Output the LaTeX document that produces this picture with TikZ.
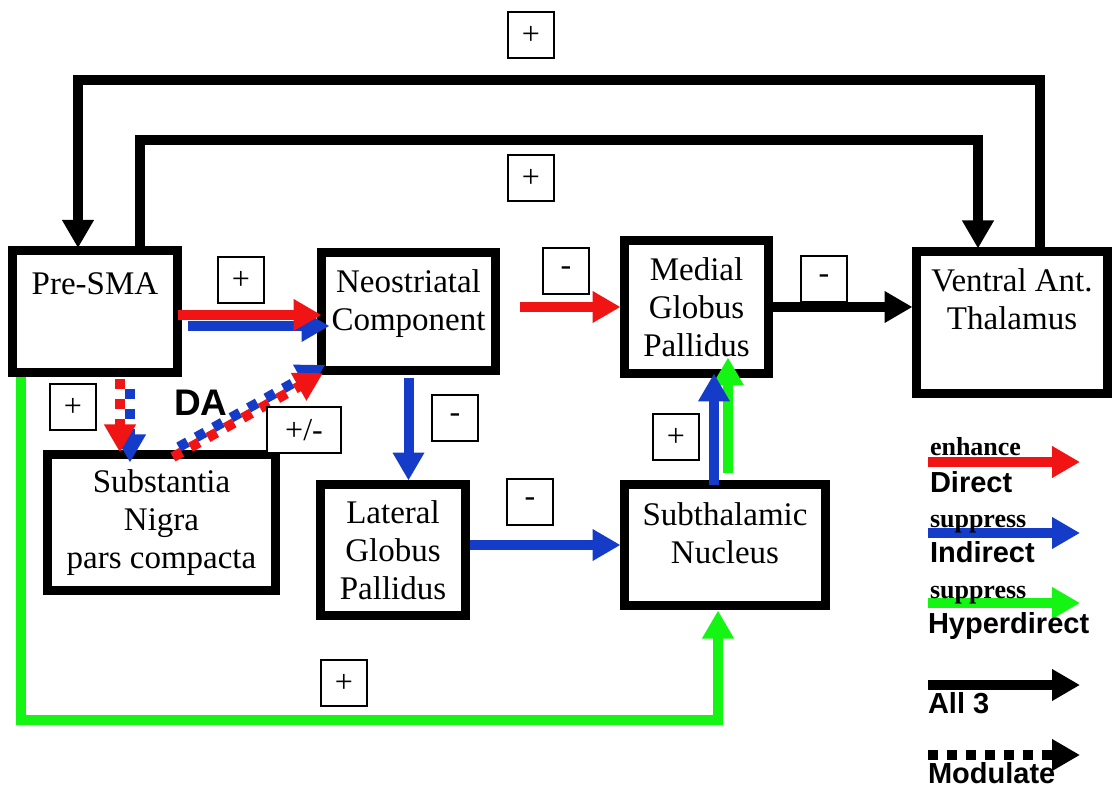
\documentclass[tikz,border=0pt]{standalone}
\usepackage{fontspec}
\setmainfont{Liberation Serif}
\setsansfont{Liberation Sans}
\usetikzlibrary{arrows.meta}

\definecolor{dirred}{RGB}{240,20,20}
\definecolor{indblue}{RGB}{20,60,200}
\definecolor{hypgreen}{RGB}{20,245,20}

\begin{document}
\begin{tikzpicture}[x=0.5pt, y=-0.5pt, every node/.style={outer sep=0pt},
    region/.style={draw, line width=4.5pt, align=center, inner sep=0pt, font=\fontsize{16.5}{19}\selectfont},
    sign/.style={draw, fill=white, line width=1pt, minimum width=23pt, minimum height=23pt, inner sep=0pt, font=\fontsize{16}{16}\selectfont},
    key/.style={anchor=base west, inner sep=0pt, font=\fontsize{14.5}{14.5}\sffamily\bfseries},
    keynote/.style={anchor=base west, inner sep=0pt, font=\fontsize{13}{13}\bfseries},
    bigtip/.style={-{Triangle[length=14pt,width=15pt]}},
    allpath/.style={bigtip, line width=5pt},
    dirpath/.style={bigtip, line width=5pt, draw=dirred},
    indpath/.style={bigtip, line width=5pt, draw=indblue},
    hyppath/.style={bigtip, line width=5pt, draw=hypgreen},
    modpath/.style={dash pattern=on 5pt off 5pt}]
    \useasboundingbox (0,0) rectangle (1120,791);

    % regions
    \node (sma) [region, minimum width=82.5pt, minimum height=61pt] at (95,312) {Pre-SMA\\[9pt]\mbox{}};
    \node (neo) [region, minimum width=87pt, minimum height=59pt] at (408.5,311.5) {Neostriatal\\Component\\[-8pt]\mbox{}};
    \node (mgp) [region, minimum width=72pt, minimum height=66.5pt] at (696.5,307) {Medial\\Globus\\Pallidus};
    \node (thal) [region, minimum width=95.5pt, minimum height=71pt] at (1012,322.5) {Ventral Ant.\\Thalamus\\[4pt]\mbox{}};
    \node (snc) [region, minimum width=114pt, minimum height=68pt] at (161.5,522.5) {Substantia\\Nigra\\pars compacta};
    \node (lgp) [region, minimum width=72.5pt, minimum height=65.5pt] at (393,550) {Lateral\\Globus\\Pallidus};
    \node (stn) [region, minimum width=100.5pt, minimum height=60.5pt] at (725,545) {Subthalamic\\Nucleus\\[-7pt]\mbox{}};

    % loops back over the top
    \coordinate (outerR) at (1040,80);
    \coordinate (outerL) at (78,80);
    \coordinate (innerL) at (140,140);
    \coordinate (innerR) at (978,140);
    \draw[allpath, shorten >=1.5pt] (thal.north -| outerR) -- (outerR) -- (outerL) -- (sma.north -| outerL);
    \draw[allpath, shorten >=1.5pt] (sma.north -| innerL) -- (innerL) -- (innerR) -- (thal.north -| innerR);

    % pathways
    \draw[indpath, shorten <=5pt, shorten >=-4pt] ([yshift=-7pt]sma.east) -- ([yshift=-7pt]sma.east -| neo.west);
    \draw[dirpath] ([yshift=-1.5pt]sma.east) -- ([yshift=-1.5pt]sma.east -| neo.west);
    \draw[dirpath, shorten <=12pt, shorten >=2pt] (neo.east |- mgp.west) -- (mgp.west);
    \draw[allpath, shorten >=2pt] (mgp.east) -- (mgp.east -| thal.west);
    \draw[indpath, shorten <=4pt, shorten >=2pt] (neo.south) -- (neo.south |- lgp.north);
    \draw[indpath, shorten <=2pt, shorten >=2pt] (lgp.east |- stn.west) -- (stn.west);
    \draw[hyppath, shorten <=6pt, shorten >=-8pt] ([xshift=1.5pt]stn.north) -- ([xshift=1.5pt]stn.north |- mgp.south);
    \draw[indpath] ([xshift=-5.5pt]stn.north) -- ([xshift=-5.5pt]stn.north |- mgp.south);
    \coordinate (hypbend) at (718,720);
    \draw[hyppath, shorten <=2pt, shorten >=2.5pt] ([xshift=4pt]sma.south west) |- (hypbend) -- (stn.south -| hypbend);

    % dopamine, modulating
    \draw[indpath, modpath, dash phase=5pt, shorten <=3pt, shorten >=-4pt] ([xshift=17.5pt]sma.south) -- ([xshift=17.5pt]sma.south |- snc.north);
    \draw[dirpath, modpath, shorten <=3pt, shorten >=1pt] ([xshift=12.5pt]sma.south) -- ([xshift=12.5pt]sma.south |- snc.north);
    \draw[indpath, modpath, dash phase=5pt, shorten >=-3pt] ([xshift=4.25pt,yshift=1.3pt]snc.north) -- ([xshift=-0.75pt,yshift=1.3pt]neo.south west);
    \draw[dirpath, modpath] ([xshift=5.75pt,yshift=-1.3pt]snc.north) -- ([xshift=0.75pt,yshift=-1.3pt]neo.south west);
    \node (da) [font=\fontsize{18.5}{18.5}\sffamily\bfseries] at (201,403) {DA};

    % signs
    \node (plustop) [sign] at (531,35) {+};
    \node (plusloop) [sign] at (531,178) {+};
    \node (plusneo) [sign] at (241,280) {+};
    \node (minusmgp) [sign] at (566,271) {-};
    \node (minusthal) [sign] at (824,279) {-};
    \node (minuslgp) [sign] at (455,418) {-};
    \node (minusstn) [sign] at (530,502) {-};
    \node (plusmgp) [sign] at (676,437) {+};
    \node (plushyp) [sign] at (344,683) {+};
    \node (plussnc) [sign] at (73,407) {+};
    \node (pmda) [sign, minimum width=37pt] at (304,430) {+/-};

    % legend
    \coordinate (k1a) at (928,462); \coordinate (k1b) at (1080,462);
    \coordinate (k2a) at (928,533); \coordinate (k2b) at (1080,533);
    \coordinate (k3a) at (928,603); \coordinate (k3b) at (1080,603);
    \coordinate (k4a) at (928,685); \coordinate (k4b) at (1080,685);
    \coordinate (k5a) at (928,755); \coordinate (k5b) at (1080,755);
    \draw[dirpath] (k1a) -- (k1b);
    \draw[indpath] (k2a) -- (k2b);
    \draw[hyppath] (k3a) -- (k3b);
    \draw[allpath] (k4a) -- (k4b);
    \draw[allpath, dash pattern=on 5pt off 4.5pt] (k5a) -- (k5b);
    \node (keyenh) [keynote] at (930,456) {enhance};
    \node (keydir) [key] at (930,492) {Direct};
    \node (keysup) [keynote] at (930,527) {suppress};
    \node (keyind) [key] at (930,562) {Indirect};
    \node (keysuph) [keynote] at (930,598) {suppress};
    \node (keyhyp) [key] at (928,633) {Hyperdirect};
    \node (keyall) [key] at (928,713) {All 3};
    \node (keymod) [key] at (928,783) {Modulate};
\end{tikzpicture}
\end{document}
